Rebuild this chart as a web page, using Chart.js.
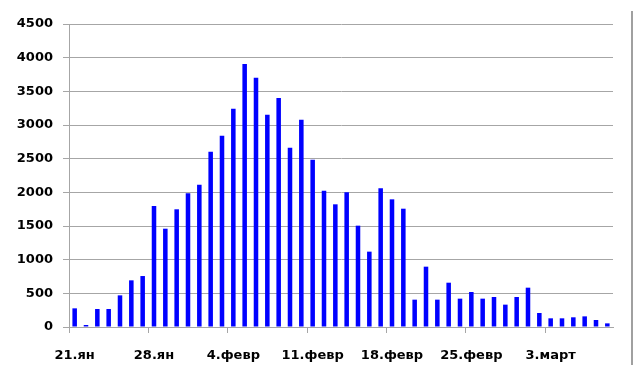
<!DOCTYPE html>
<html>
<head>
<meta charset="utf-8">
<script src="https://cdn.jsdelivr.net/npm/chart.js@4.4.1/dist/chart.umd.min.js"></script>
<style>
  html, body { margin: 0; padding: 0; background: #fff; overflow: hidden; }
  #wrap { position: relative; width: 636px; height: 365px; }
  #chart { display: block; }
  #edge { position: absolute; left: 631px; top: 11px; width: 2px; height: 354px; background: #a0a0a0; }
</style>
</head>
<body>
<div id="wrap">
  <canvas id="chart" width="636" height="365"></canvas>
  <div id="edge"></div>
</div>
<script>
// days from 21 Jan to 8 Mar, one bar per day
const days = [
  "21.ян", "22.ян", "23.ян", "24.ян", "25.ян", "26.ян", "27.ян",
  "28.ян", "29.ян", "30.ян", "31.ян", "1.февр", "2.февр", "3.февр",
  "4.февр", "5.февр", "6.февр", "7.февр", "8.февр", "9.февр", "10.февр",
  "11.февр", "12.февр", "13.февр", "14.февр", "15.февр", "16.февр", "17.февр",
  "18.февр", "19.февр", "20.февр", "21.февр", "22.февр", "23.февр", "24.февр",
  "25.февр", "26.февр", "27.февр", "28.февр", "29.февр", "1.март", "2.март",
  "3.март", "4.март", "5.март", "6.март", "7.март", "8.март"
];
const counts = [
  277, 30, 267, 267, 470, 693, 757,
  1797, 1460, 1748, 1985, 2114, 2604, 2842,
  3243, 3906, 3703, 3153, 3401, 2663, 3079,
  2485, 2025, 1822, 2000, 1505, 1119, 2059,
  1896, 1757, 406, 896, 406, 658, 421,
  520, 421, 446, 332, 446, 584, 208,
  129, 129, 144, 158, 104, 54
];
const yMax = 4500;
const yStep = 500;
const labelEvery = 7;

const axisGray = "#a6a6a6";
const font = { family: "'DejaVu Sans'", size: 13, weight: "bold" };

new Chart(document.getElementById("chart"), {
  type: "bar",
  data: {
    labels: days,
    datasets: [{
      data: counts,
      backgroundColor: "#0000ff",
      borderWidth: 0,
      barPercentage: 0.4,
      categoryPercentage: 1
    }]
  },
  options: {
    responsive: false,
    animation: false,
    devicePixelRatio: 1,
    layout: { padding: { top: 24, right: 23, left: 0, bottom: 0 } },
    plugins: { legend: { display: false }, tooltip: { enabled: false } },
    scales: {
      x: {
        offset: true,
        grid: {
          offset: true,
          drawOnChartArea: false,
          tickLength: 6,
          tickColor: (ctx) => (ctx.index % labelEvery === 0 ? axisGray : "transparent")
        },
        border: { color: axisGray },
        ticks: {
          autoSkip: false,
          maxRotation: 0,
          padding: 15,
          color: "#000",
          font: font,
          callback: (v, i) => (i % labelEvery === 0 ? days[i] : "")
        },
        afterFit: (s) => { s.height = 38; }
      },
      y: {
        min: 0,
        max: yMax,
        grid: { color: axisGray, tickLength: 6 },
        border: { color: axisGray },
        ticks: {
          stepSize: yStep,
          padding: 10,
          color: "#000",
          font: font,
          callback: (v) => String(v)
        },
        afterFit: (s) => { s.width = 69; }
      }
    }
  }
});
</script>
</body>
</html>
